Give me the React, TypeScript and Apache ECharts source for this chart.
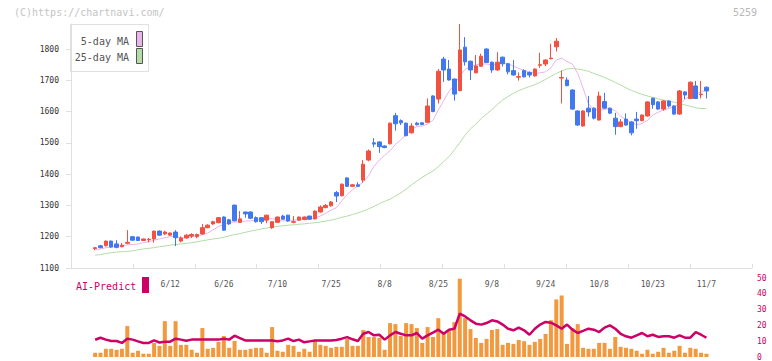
import React, { useEffect, useRef } from "react";
import * as echarts from "echarts";

const dates = [
  "5/23", "5/26", "5/27", "5/28", "5/29", "5/30",
  "6/2", "6/3", "6/4", "6/5", "6/6", "6/9", "6/10", "6/11", "6/12", "6/13", "6/16", "6/17", "6/18", "6/19", "6/20", "6/23", "6/24", "6/25", "6/26", "6/27", "6/30",
  "7/1", "7/2", "7/3", "7/4", "7/7", "7/8", "7/9", "7/10", "7/11", "7/14", "7/15", "7/16", "7/17", "7/18", "7/22", "7/23", "7/24", "7/25", "7/28", "7/29", "7/30", "7/31",
  "8/1", "8/4", "8/5", "8/6", "8/7", "8/8", "8/12", "8/13", "8/14", "8/15", "8/18", "8/19", "8/20", "8/21", "8/22", "8/25", "8/26", "8/27", "8/28", "8/29",
  "9/1", "9/2", "9/3", "9/4", "9/5", "9/8", "9/9", "9/10", "9/11", "9/12", "9/16", "9/17", "9/18", "9/19", "9/22", "9/24", "9/25", "9/26", "9/29", "9/30",
  "10/1", "10/2", "10/3", "10/6", "10/7", "10/8", "10/9", "10/10", "10/14", "10/15", "10/16", "10/17", "10/20", "10/21", "10/22", "10/23", "10/24", "10/27", "10/28", "10/29", "10/30", "10/31",
  "11/4", "11/5", "11/6", "11/7",
];

const xLabelDates = ["6/12", "6/26", "7/10", "7/25", "8/8", "8/25", "9/8", "9/24", "10/8", "10/23", "11/7"];

const openP = [
  1162, 1171, 1171, 1186, 1177, 1168, 1179, 1200, 1199, 1188,
  1190, 1193, 1218, 1209, 1205, 1215, 1186, 1196, 1202, 1200,
  1209, 1229, 1241, 1245, 1263, 1254, 1301, 1246, 1279, 1279,
  1261, 1261, 1253, 1229, 1246, 1266, 1269, 1246, 1253, 1255,
  1266, 1257, 1279, 1293, 1299, 1341, 1331, 1388, 1361, 1366,
  1381, 1445, 1500, 1503, 1490, 1497, 1587, 1571, 1563, 1532,
  1563, 1564, 1566, 1650, 1640, 1768, 1736, 1704, 1667, 1806,
  1761, 1724, 1745, 1800, 1758, 1733, 1774, 1753, 1731, 1710,
  1731, 1725, 1714, 1748, 1752, 1769, 1807, 1707, 1701, 1669,
  1602, 1554, 1611, 1611, 1573, 1632, 1611, 1579, 1552, 1576,
  1567, 1576, 1571, 1586, 1643, 1631, 1608, 1634, 1618, 1592,
  1663, 1642, 1682, 1654, 1678,
];

const closeP = [
  1165, 1165, 1186, 1167, 1166, 1173, 1182, 1189, 1188, 1193,
  1192, 1218, 1205, 1215, 1212, 1197, 1196, 1205, 1207, 1207,
  1229, 1237, 1248, 1261, 1221, 1241, 1251, 1257, 1273, 1259,
  1248, 1248, 1269, 1248, 1263, 1256, 1250, 1248, 1263, 1263,
  1256, 1282, 1295, 1300, 1311, 1330, 1368, 1361, 1366, 1361,
  1432, 1474, 1496, 1488, 1485, 1563, 1561, 1564, 1523, 1554,
  1558, 1559, 1618, 1600, 1729, 1733, 1701, 1656, 1797, 1759,
  1733, 1746, 1777, 1757, 1733, 1758, 1753, 1727, 1717, 1712,
  1711, 1717, 1736, 1750, 1765, 1771, 1825, 1709, 1683, 1608,
  1557, 1602, 1599, 1579, 1650, 1611, 1595, 1552, 1567, 1557,
  1532, 1571, 1589, 1631, 1622, 1608, 1634, 1618, 1592, 1666,
  1653, 1694, 1642, 1656, 1666,
];

const lowP = [
  1157, 1163, 1169, 1165, 1163, 1166, 1176, 1187, 1186, 1186,
  1182, 1181, 1203, 1205, 1203, 1170, 1182, 1194, 1196, 1195,
  1206, 1227, 1238, 1243, 1219, 1238, 1249, 1244, 1261, 1257,
  1245, 1241, 1243, 1225, 1244, 1254, 1248, 1243, 1251, 1253,
  1254, 1255, 1277, 1291, 1296, 1311, 1329, 1359, 1359, 1359,
  1373, 1441, 1486, 1468, 1483, 1495, 1539, 1557, 1521, 1530,
  1556, 1557, 1564, 1598, 1626, 1695, 1699, 1635, 1665, 1747,
  1701, 1722, 1743, 1755, 1724, 1731, 1744, 1719, 1715, 1699,
  1709, 1709, 1712, 1740, 1745, 1767, 1792, 1626, 1681, 1606,
  1554, 1552, 1584, 1575, 1571, 1609, 1593, 1526, 1550, 1555,
  1524, 1545, 1569, 1584, 1609, 1606, 1603, 1613, 1590, 1590,
  1640, 1640, 1640, 1642, 1642,
];

const highP = [
  1166, 1174, 1188, 1188, 1189, 1180, 1221, 1201, 1200, 1194,
  1196, 1219, 1220, 1219, 1213, 1221, 1201, 1208, 1211, 1210,
  1241, 1240, 1251, 1263, 1265, 1257, 1302, 1282, 1280, 1281,
  1265, 1262, 1270, 1249, 1264, 1270, 1270, 1266, 1264, 1265,
  1267, 1284, 1300, 1305, 1314, 1346, 1370, 1390, 1368, 1374,
  1445, 1479, 1515, 1505, 1492, 1565, 1596, 1575, 1565, 1563,
  1567, 1566, 1642, 1652, 1736, 1775, 1765, 1706, 1880, 1838,
  1763, 1781, 1785, 1802, 1760, 1790, 1776, 1755, 1765, 1725,
  1735, 1728, 1738, 1788, 1767, 1817, 1835, 1731, 1709, 1671,
  1604, 1604, 1650, 1613, 1664, 1660, 1613, 1596, 1576, 1594,
  1569, 1599, 1591, 1633, 1645, 1634, 1636, 1636, 1620, 1669,
  1665, 1696, 1698, 1698, 1680,
];

const ma5 = [
  1158, 1161, 1165, 1167, 1169, 1172, 1174, 1175, 1177, 1181,
  1184, 1189, 1193, 1197, 1200, 1201, 1196, 1197, 1200, 1203,
  1206, 1212, 1222, 1232, 1240, 1246, 1247, 1248, 1250, 1251,
  1253, 1257, 1258, 1257, 1256, 1250, 1252, 1253, 1254, 1256,
  1257, 1260, 1266, 1275, 1285, 1293, 1315, 1335, 1350, 1362,
  1375, 1395, 1425, 1445, 1460, 1475, 1495, 1510, 1525, 1545,
  1552, 1554, 1560, 1572, 1605, 1635, 1665, 1685, 1715, 1735,
  1745, 1749, 1753, 1752, 1749, 1752, 1755, 1754, 1745, 1738,
  1731, 1727, 1722, 1724, 1727, 1740, 1765, 1771, 1760, 1752,
  1722, 1675, 1625, 1606, 1605, 1607, 1610, 1603, 1585, 1575,
  1564, 1558, 1562, 1572, 1589, 1598, 1605, 1610, 1617, 1622,
  1640, 1650, 1656, 1663, 1669,
];

const ma25 = [
  1141, 1143, 1146, 1149, 1151, 1152, 1153, 1155, 1158, 1161,
  1163, 1165, 1168, 1170, 1173, 1175, 1177, 1179, 1181, 1184,
  1187, 1190, 1193, 1195, 1198, 1203, 1207, 1210, 1214, 1218,
  1221, 1225, 1228, 1231, 1233, 1235, 1237, 1238, 1240, 1241,
  1243, 1245, 1247, 1250, 1253, 1257, 1262, 1266, 1271, 1276,
  1282, 1289, 1297, 1306, 1313, 1320, 1330, 1340, 1352, 1366,
  1378, 1390, 1400, 1410, 1424, 1440, 1456, 1478, 1500, 1525,
  1545, 1560, 1578, 1592, 1607, 1622, 1637, 1648, 1658, 1667,
  1674, 1680, 1686, 1694, 1703, 1713, 1722, 1730, 1736, 1738,
  1736, 1733, 1729, 1722, 1716, 1709, 1702, 1693, 1685, 1676,
  1668, 1661, 1655, 1650, 1645, 1641, 1637, 1633, 1630, 1626,
  1621, 1617, 1612, 1610, 1609,
];

const volume = [
  43, 43, 83, 83, 73, 83, 313, 43, 63, 33,
  33, 143, 113, 363, 113, 363, 123, 123, 73, 43,
  293, 83, 93, 153, 213, 93, 163, 73, 73, 83,
  93, 93, 43, 303, 63, 53, 123, 113, 53, 83,
  53, 173, 123, 113, 93, 103, 103, 183, 113, 113,
  273, 203, 203, 193, 73, 343, 333, 213, 343, 333,
  293, 143, 303, 203, 393, 233, 263, 353, 793, 393,
  283, 193, 143, 183, 273, 283, 123, 143, 133, 173,
  160, 123, 153, 183, 233, 373, 583, 623, 133, 293,
  333, 93, 83, 83, 143, 143, 83, 203, 103, 93,
  83, 63, 33, 73, 33, 53, 93, 43, 63, 113,
  43, 93, 83, 43, 33,
];

const aiPredict = [
  10.9, 12.2, 11, 10.1, 10.1, 8.9, 11.6, 11, 9.9, 8.9,
  8.9, 10.5, 9.2, 9.7, 9.7, 11.6, 11, 10.3, 11, 11,
  11, 11, 11, 11, 11.6, 11, 13.5, 12, 10.5, 10.5,
  10.5, 10.5, 10.5, 10.5, 10, 10.5, 11.6, 10.1, 11, 9.3,
  9.9, 10.5, 10.5, 10.5, 10.5, 10.8, 11.6, 12.6, 11.2, 10.1,
  14.7, 15.8, 13.7, 14.1, 11, 13.7, 15.8, 14.7, 13.7, 13.7,
  15.2, 11.6, 13.7, 15.4, 17.3, 14.7, 17.3, 17.9, 27.4, 25.7,
  23.2, 21.1, 20.5, 21.5, 23.2, 22.5, 20.5, 17.9, 16.9, 18.6,
  16.9, 14.1, 17.9, 20.5, 22.2, 21.7, 20, 17.9, 20.5, 17.3,
  15.2, 16.5, 17.9, 17.3, 15.8, 18.6, 20, 17.9, 14.7, 13.1,
  12.2, 13.7, 15.2, 13.1, 14.1, 12.7, 13.1, 13.1, 12.2, 13.7,
  12.2, 12.2, 15.8, 14.1, 12.2,
];

const priceTicks = [1100, 1200, 1300, 1400, 1500, 1600, 1700, 1800];
const aiTicks = [0, 10, 20, 30, 40, 50];

const PAD_BEFORE = 4;
const PAD_AFTER = 8;

const FONT = '"DejaVu Sans Mono", "Liberation Mono", monospace';
const RED = "#f25140";
const BLUE = "#4178ef";
const ORANGE = "#f2993f";
const MAGENTA = "#cc0066";
const PINK = "#e9b4ea";
const GREEN = "#b3dca6";
const AXIS_GRAY = "#e0e0e0";

export default function App() {
  const ref = useRef<HTMLDivElement>(null);

  useEffect(() => {
    document.body.style.margin = "0";
    const chart = echarts.init(ref.current!, null, { renderer: "svg" });

    const pre = Array.from({ length: PAD_BEFORE }, (_, k) => `pre${k}`);
    const post = Array.from({ length: PAD_AFTER }, (_, k) => `post${k}`);
    const cats = [...pre, ...dates, ...post];
    const padArr = (arr: any[]) => [
      ...Array(PAD_BEFORE).fill("-"),
      ...arr,
      ...Array(PAD_AFTER).fill("-"),
    ];
    const candles = dates.map((_, i) => [openP[i], closeP[i], lowP[i], highP[i]]);

    chart.setOption({
      animation: false,
      backgroundColor: "#ffffff",
      grid: [
        { left: 71, top: 24, width: 681, height: 244 },
        { left: 71, top: 278, width: 681, height: 80 },
      ],
      xAxis: [
        {
          type: "category",
          gridIndex: 0,
          data: cats,
          boundaryGap: true,
          axisLine: { show: false },
          axisTick: { show: false },
          splitLine: { show: false },
          axisLabel: {
            interval: 0,
            margin: 12,
            color: "#555",
            fontFamily: FONT,
            fontSize: 8,
            formatter: (v: string) => (xLabelDates.includes(v) ? v : ""),
          },
        },
        {
          type: "value",
          gridIndex: 0,
          min: 0,
          max: 11,
          interval: 1,
          position: "bottom",
          axisLine: { show: true, lineStyle: { color: AXIS_GRAY, width: 1 } },
          axisTick: { show: true, inside: true, length: 4, lineStyle: { color: AXIS_GRAY } },
          axisLabel: { show: false },
          splitLine: { show: false },
        },
        {
          type: "category",
          gridIndex: 1,
          data: cats,
          boundaryGap: true,
          show: false,
        },
      ],
      yAxis: [
        {
          type: "value",
          gridIndex: 0,
          min: 1100,
          max: 1880,
          axisLine: { show: true, lineStyle: { color: AXIS_GRAY, width: 1 } },
          axisTick: {
            show: true,
            length: 5,
            lineStyle: { color: AXIS_GRAY },
            customValues: priceTicks,
          },
          axisLabel: {
            margin: 12,
            color: "#333",
            fontFamily: FONT,
            fontSize: 8,
            customValues: priceTicks,
            formatter: (v: number) => String(v),
          },
          splitLine: { show: false },
        },
        {
          type: "value",
          gridIndex: 1,
          min: 0,
          max: 800,
          show: false,
          splitLine: { show: false },
        },
        {
          type: "value",
          gridIndex: 1,
          position: "right",
          min: 0,
          max: 50,
          interval: 10,
          axisLine: { show: false },
          axisTick: { show: false },
          splitLine: { show: false },
          axisLabel: {
            margin: 5,
            color: MAGENTA,
            fontFamily: FONT,
            fontSize: 8,
            customValues: aiTicks,
            formatter: (v: number) => String(v),
          },
        },
      ],
      series: [
        {
          name: "25-day MA",
          type: "line",
          xAxisIndex: 0,
          yAxisIndex: 0,
          data: padArr(ma25),
          showSymbol: false,
          symbol: "none",
          lineStyle: { color: GREEN, width: 1 },
          z: 1,
        },
        {
          name: "5-day MA",
          type: "line",
          xAxisIndex: 0,
          yAxisIndex: 0,
          data: padArr(ma5),
          showSymbol: false,
          symbol: "none",
          lineStyle: { color: PINK, width: 1 },
          z: 1,
        },
        {
          name: "price",
          type: "candlestick",
          xAxisIndex: 0,
          yAxisIndex: 0,
          barWidth: 4,
          data: padArr(candles),
          itemStyle: {
            color: RED,
            color0: BLUE,
            borderColor: RED,
            borderColor0: BLUE,
            borderWidth: 1,
          },
          z: 3,
        },
        {
          name: "volume",
          type: "bar",
          xAxisIndex: 2,
          yAxisIndex: 1,
          barWidth: 4,
          data: padArr(volume),
          itemStyle: { color: ORANGE },
          z: 1,
        },
        {
          name: "AI-Predict",
          type: "line",
          xAxisIndex: 2,
          yAxisIndex: 2,
          data: padArr(aiPredict),
          showSymbol: false,
          symbol: "none",
          lineStyle: { color: MAGENTA, width: 2.5 },
          z: 3,
        },
      ],
      graphic: [
        {
          type: "text",
          left: 14,
          top: 7,
          style: { text: "(C)https://chartnavi.com/", fill: "#c4c4c4", font: `10px ${FONT}` },
          z: 10,
        },
        {
          type: "text",
          right: 15,
          top: 7,
          style: { text: "5259", fill: "#b8b8b8", font: `10px ${FONT}` },
          z: 10,
        },
        {
          type: "group",
          left: 70,
          top: 24,
          z: 20,
          children: [
            {
              type: "rect",
              shape: { x: 0.5, y: 0.5, width: 78, height: 47 },
              style: { fill: "#ffffff", stroke: AXIS_GRAY, lineWidth: 1 },
            },
            {
              type: "text",
              x: 59,
              y: 17,
              style: {
                text: "5-day MA",
                fill: "#555",
                font: `10px ${FONT}`,
                align: "right",
                verticalAlign: "middle",
              },
            },
            {
              type: "text",
              x: 59,
              y: 33,
              style: {
                text: "25-day MA",
                fill: "#555",
                font: `10px ${FONT}`,
                align: "right",
                verticalAlign: "middle",
              },
            },
            {
              type: "rect",
              shape: { x: 66.5, y: 7.5, width: 6, height: 15 },
              style: { fill: PINK, stroke: "#555", lineWidth: 1 },
            },
            {
              type: "rect",
              shape: { x: 66.5, y: 24.5, width: 6, height: 15 },
              style: { fill: GREEN, stroke: "#555", lineWidth: 1 },
            },
          ],
        },
        {
          type: "text",
          x: 76,
          y: 286,
          style: {
            text: "AI-Predict",
            fill: MAGENTA,
            font: `10px ${FONT}`,
            verticalAlign: "middle",
          },
          z: 10,
        },
        {
          type: "rect",
          shape: { x: 142, y: 277, width: 7, height: 16 },
          style: { fill: MAGENTA },
          z: 10,
        },
      ],
    });

    return () => chart.dispose();
  }, []);

  return <div ref={ref} style={{ width: 772, height: 361 }} />;
}
